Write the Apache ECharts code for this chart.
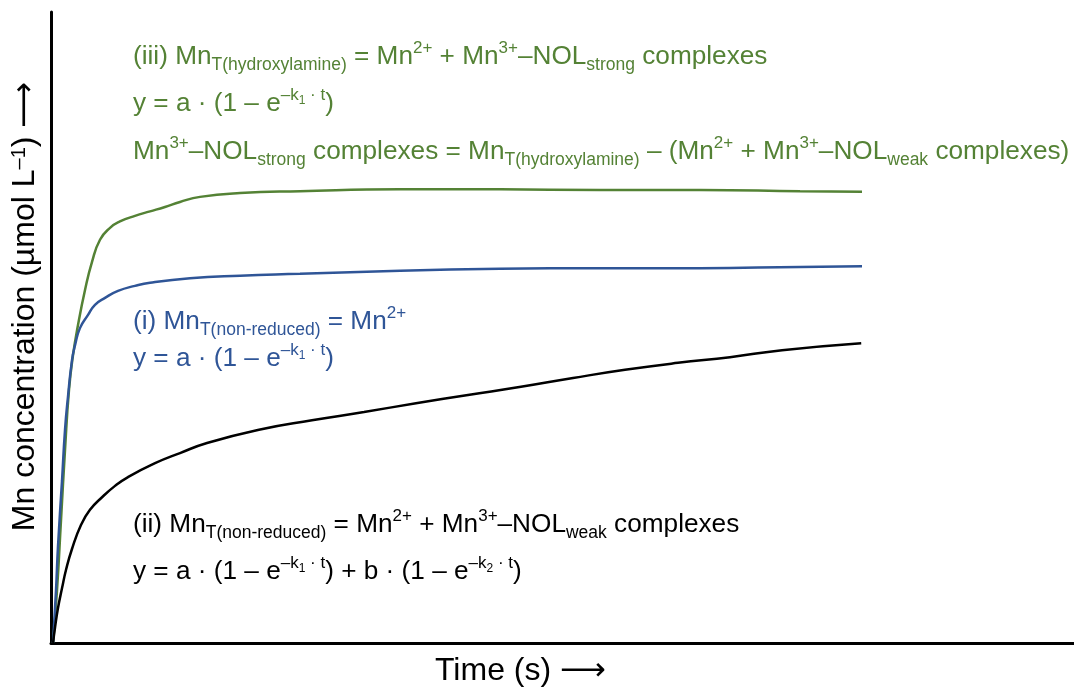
<!DOCTYPE html>
<html>
<head>
<meta charset="utf-8">
<script src="https://cdn.jsdelivr.net/npm/echarts@6/dist/echarts.min.js"></script>
<style>
html,body{margin:0;padding:0;background:#fff;}
#chart{width:1074px;height:688px;}
</style>
</head>
<body>
<div id="chart"></div>
<script>
// Curve (iii) Mn_T(hydroxylamine) - green
var greenCurve = [
  [0.2,0],[0.59,8.4],[0.98,19.5],[1.37,30.6],[1.76,40.1],[2.15,45.6],[2.64,50.4],
  [3.32,55.9],[4.01,60.4],[4.79,63.9],[5.77,65.8],[6.74,66.8],[8.21,67.7],[9.68,68.4],
  [11.14,69.1],[12.61,69.9],[14.57,70.7],[18.48,71.3],[24.34,71.6],[34.12,71.9],
  [43.89,71.9],[53.67,71.8],[63.44,71.8],[73.22,71.6],[79.28,71.5]
];
// Curve (i) Mn_T(non-reduced) = Mn2+ - blue
var blueCurve = [
  [0.2,0],[0.49,8.4],[0.68,15.2],[1.08,25.8],[1.37,33.8],[1.66,39.0],[2.05,44.8],
  [2.35,47.2],[2.83,49.9],[3.62,52.0],[4.30,53.6],[5.28,54.7],[6.55,55.8],[8.21,56.6],
  [9.68,57.1],[13.59,57.8],[18.48,58.2],[24.34,58.5],[34.12,59.0],[43.89,59.3],
  [53.67,59.4],[63.44,59.4],[73.22,59.6],[79.28,59.7]
];
// Curve (ii) Mn_T(non-reduced) incl. weak complexes - black
var blackCurve = [
  [0.2,0],[0.39,2.4],[0.68,5.5],[1.08,8.7],[1.47,11.6],[2.05,14.9],[2.93,18.7],[3.81,21.1],
  [4.99,23.1],[6.26,24.9],[7.53,26.3],[10.17,28.5],[12.61,30.1],[15.25,31.7],
  [20.33,33.8],[25.51,35.3],[30.60,36.6],[35.68,38.0],[40.76,39.3],[45.94,40.6],
  [51.03,42.0],[56.11,43.3],[61.29,44.4],[66.37,45.3],[71.46,46.4],[79.2,47.5]
];
var xAxisTitle = 'Time (s) \u27F6';
var yAxisTitle = 'Mn concentration (\u00B5mol L{sup|\u20131}) \u27F6';
var greenLines = [
  '(iii) Mn{sub|T(hydroxylamine)} = Mn{sup|2+} + Mn{sup|3+}\u2013NOL{sub|strong} complexes',
  'y = a \u00B7 (1 \u2013 e{sup|\u2013k}{ss|1}{sup| \u00B7 t})',
  'Mn{sup|3+}\u2013NOL{sub|strong} complexes = Mn{sub|T(hydroxylamine)} \u2013 (Mn{sup|2+} + Mn{sup|3+}\u2013NOL{sub|weak} complexes)'
];
var blueLines = [
  '(i) Mn{sub|T(non-reduced)} = Mn{sup|2+}',
  'y = a \u00B7 (1 \u2013 e{sup|\u2013k}{ss|1}{sup| \u00B7 t})'
];
var blackLines = [
  '(ii) Mn{sub|T(non-reduced)} = Mn{sup|2+} + Mn{sup|3+}\u2013NOL{sub|weak} complexes',
  'y = a \u00B7 (1 \u2013 e{sup|\u2013k}{ss|1}{sup| \u00B7 t}) + b \u00B7 (1 \u2013 e{sup|\u2013k}{ss|2}{sup| \u00B7 t})'
];

var GREEN = '#548235', BLUE = '#2F5597', BLACK = '#000000';
var FONT = '"Liberation Sans", Arial, "DejaVu Sans", sans-serif';

function richStyles(color) {
  return {
    sub: {fontSize: 17.5, verticalAlign: 'bottom', fontFamily: FONT, color: color},
    sup: {fontSize: 17, verticalAlign: 'top', fontFamily: FONT, color: color},
    ss: {fontSize: 12, verticalAlign: 'top', padding: [8, 0, 0, 0], fontFamily: FONT, color: color}
  };
}
function textEl(txt, x, y, color) {
  return {
    type: 'text', x: x, y: y, silent: true,
    style: {
      text: txt, fill: color, fontSize: 26.2, lineHeight: 34, fontFamily: FONT,
      align: 'left', verticalAlign: 'middle', rich: richStyles(color)
    }
  };
}

var graphics = [];
var gy = [57, 104, 152];
greenLines.forEach(function(t, i){ graphics.push(textEl(t, 133, gy[i], GREEN)); });
var by = [322, 359];
blueLines.forEach(function(t, i){ graphics.push(textEl(t, 133, by[i], BLUE)); });
var ky = [525, 572];
blackLines.forEach(function(t, i){ graphics.push(textEl(t, 133, ky[i], BLACK)); });
graphics.push({
  type: 'text', x: 435, y: 671, silent: true,
  style: {text: xAxisTitle, fill: '#000', fontSize: 32, fontFamily: FONT, align: 'left', verticalAlign: 'middle'}
});

var chart = echarts.init(document.getElementById('chart'));
chart.setOption({
  animation: false,
  backgroundColor: '#fff',
  grid: {left: 51, right: 0, top: 12, bottom: 45},
  xAxis: {
    type: 'value', min: 0, max: 100,
    axisLine: {show: true, onZero: false, lineStyle: {color: '#000', width: 3}},
    axisTick: {show: false}, axisLabel: {show: false}, splitLine: {show: false}
  },
  yAxis: {
    type: 'value', min: 0, max: 100,
    name: yAxisTitle, nameLocation: 'middle', nameGap: 10, nameRotate: 90,
    nameTextStyle: {
      color: '#000', fontSize: 32, fontFamily: FONT, padding: [0, 0, 0, 42],
      rich: {sup: {fontSize: 20, verticalAlign: 'top', color: '#000', fontFamily: FONT}}
    },
    axisLine: {show: true, onZero: false, lineStyle: {color: '#000', width: 3}},
    axisTick: {show: false}, axisLabel: {show: false}, splitLine: {show: false}
  },
  series: [
    {type: 'line', data: greenCurve, smooth: true, showSymbol: false, lineStyle: {color: GREEN, width: 2.5}},
    {type: 'line', data: blueCurve, smooth: true, showSymbol: false, lineStyle: {color: BLUE, width: 2.5}},
    {type: 'line', data: blackCurve, smooth: true, showSymbol: false, lineStyle: {color: BLACK, width: 2.5}}
  ],
  graphic: graphics
});
</script>
</body>
</html>
